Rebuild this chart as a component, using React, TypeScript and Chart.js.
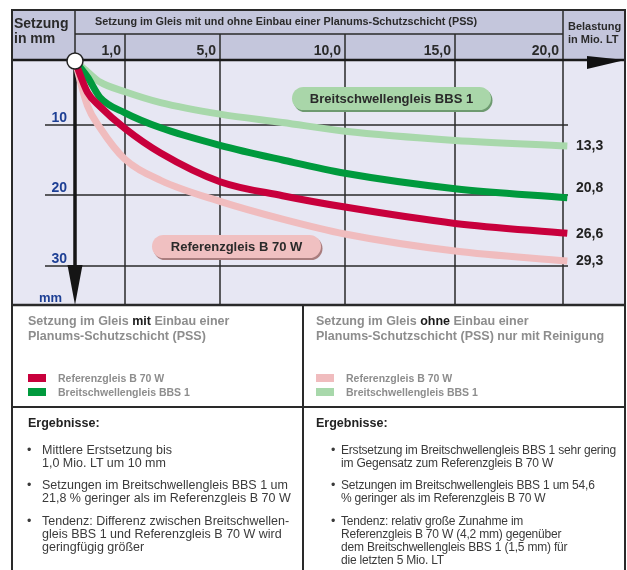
import React, { useEffect, useRef } from 'react';
import { Chart, registerables, LinearScale } from 'chart.js';

// ---------- data ----------
const belastungMioLT = [0, 0.25, 0.5, 1, 2.5, 5, 7.5, 10, 15, 20.2];
const refMitPSS = [0, 4.9, 7.1, 10.5, 14.0, 18.1, 20.1, 21.7, 24.0, 25.4];
const bbsMitPSS = [0, 2.5, 5.7, 8.1, 10.4, 12.9, 15.0, 16.9, 19.1, 20.4];
const refOhnePSS = [0, 7.0, 10.4, 14.9, 17.9, 20.9, 23.4, 25.5, 27.9, 29.3];
const bbsOhnePSS = [0, 1.7, 3.3, 4.8, 6.5, 8.3, 9.6, 10.9, 12.2, 13.0];
const seriesNames = ['Referenzgleis B 70 W', 'Breitschwellengleis BBS 1', 'Referenzgleis B 70 W', 'Breitschwellengleis BBS 1'];
const seriesColors = ['#c8003c', '#009a3d', '#f0bcbe', '#a8d8ab'];
const endwerte = [26.6, 20.8, 29.3, 13.3];
const xTicks = [1, 5, 10, 15, 20];
const yTicks = [10, 20, 30];

const ergebnisseMit = [
  ['Mittlere Erstsetzung bis', '1,0 Mio. LT um 10 mm'],
  ['Setzungen im Breitschwellengleis BBS 1 um', '21,8 % geringer als im Referenzgleis B 70 W'],
  ['Tendenz: Differenz zwischen Breitschwellen-', 'gleis BBS 1 und Referenzgleis B 70 W wird', 'geringfügig größer'],
];
const ergebnisseOhne = [
  ['Erstsetzung im Breitschwellengleis BBS 1 sehr gering', 'im Gegensatz zum Referenzgleis B 70 W'],
  ['Setzungen im Breitschwellengleis BBS 1 um 54,6', '% geringer als im Referenzgleis B 70 W'],
  ['Tendenz: relativ große Zunahme im', 'Referenzgleis B 70 W (4,2 mm) gegenüber', 'dem Breitschwellengleis BBS 1 (1,5 mm) für', 'die letzten 5 Mio. LT'],
];

const FONT = '"Liberation Sans", Arial, sans-serif';
const fmt = (v: number) => v.toFixed(1).replace('.', ',');

// piecewise-linear scale (the original drawing is not to a linear scale)
class AnchoredScale extends LinearScale {
  static id = 'anchored';
  static defaults = LinearScale.defaults;
  offsetFor(value: number): number {
    const o: any = this.options;
    const vs: number[] = o.anchorValues;
    const ps: number[] = o.anchorOffsets;
    let i = 1;
    while (i < vs.length - 1 && value > vs[i]) i++;
    return ps[i - 1] + ((value - vs[i - 1]) * (ps[i] - ps[i - 1])) / (vs[i] - vs[i - 1]);
  }
  getPixelForValue(value: number) {
    if (value === null || value === undefined || isNaN(value)) return NaN;
    const off = this.offsetFor(value);
    return this.isHorizontal() ? this.left + off : this.top + off;
  }
  getValueForPixel(pixel: number) {
    const o: any = this.options;
    const vs: number[] = o.anchorValues;
    const ps: number[] = o.anchorOffsets;
    const off = this.isHorizontal() ? pixel - this.left : pixel - this.top;
    let i = 1;
    while (i < ps.length - 1 && off > ps[i]) i++;
    return vs[i - 1] + ((off - ps[i - 1]) * (vs[i] - vs[i - 1])) / (ps[i] - ps[i - 1]);
  }
}

Chart.register(...registerables, AnchoredScale as any);

const L = 12, R = 625, T = 10, SUB = 34, DIV = 407, MID = 303;

function pill(ctx: CanvasRenderingContext2D, x: number, y: number, w: number, h: number, fill: string, shadow: string, text: string) {
  const r = h / 2;
  const rr = (dx: number, dy: number) => {
    ctx.beginPath();
    ctx.moveTo(x + dx + r, y + dy);
    ctx.lineTo(x + dx + w - r, y + dy);
    ctx.arc(x + dx + w - r, y + dy + r, r, -Math.PI / 2, Math.PI / 2);
    ctx.lineTo(x + dx + r, y + dy + h);
    ctx.arc(x + dx + r, y + dy + r, r, Math.PI / 2, (3 * Math.PI) / 2);
    ctx.closePath();
  };
  ctx.fillStyle = shadow;
  rr(1.5, 2);
  ctx.fill();
  ctx.fillStyle = fill;
  rr(0, 0);
  ctx.fill();
  ctx.fillStyle = '#2a2a2a';
  ctx.font = `bold 13px ${FONT}`;
  ctx.textAlign = 'center';
  ctx.textBaseline = 'middle';
  ctx.fillText(text, x + w / 2, y + h / 2 + 0.5);
}

const artPlugin = {
  id: 'art',
  beforeDraw(chart: any) {
    const { ctx, chartArea: ca, scales } = chart;
    const xs = scales.x, ys = scales.y;
    const W = chart.width, H = chart.height;
    const HB = ca.top, PB = ca.bottom;
    const ox = xs.getPixelForValue(0);
    const xEnd = xs.getPixelForValue(xTicks[xTicks.length - 1]);
    const line = (x1: number, y1: number, x2: number, y2: number, w: number, c = '#2a2a2a') => {
      ctx.beginPath();
      ctx.moveTo(x1, y1);
      ctx.lineTo(x2, y2);
      ctx.lineWidth = w;
      ctx.strokeStyle = c;
      ctx.stroke();
    };
    ctx.save();
    ctx.fillStyle = '#ffffff';
    ctx.fillRect(0, 0, W, H);
    ctx.fillStyle = '#c4c6dc';
    ctx.fillRect(L, T, R - L, HB - T);
    ctx.fillStyle = '#e7e7f3';
    ctx.fillRect(L, HB, R - L, PB - HB);

    xTicks.forEach((t, i) => {
      const px = Math.round(xs.getPixelForValue(t));
      line(px, i === xTicks.length - 1 ? T : SUB, px, PB, 1.5);
    });
    yTicks.forEach((t) => {
      const py = Math.round(ys.getPixelForValue(t));
      line(45, py, xEnd + 5, py, 1.5);
    });
    line(L, T, R, T, 2);
    line(ox, SUB, xEnd, SUB, 1.5);
    line(ox, T, ox, HB, 1.5);
    line(L, HB, R, HB, 2.5, '#1a1a1a');
    line(L, T - 1, L, H, 2);
    line(R, T - 1, R, H, 2);
    line(L, PB, R, PB, 2.5);
    line(L, DIV, R, DIV, 2);
    line(MID, PB, MID, H, 2);

    // x-axis arrow head
    ctx.fillStyle = '#111';
    ctx.beginPath();
    ctx.moveTo(587, 56);
    ctx.lineTo(R, 60);
    ctx.lineTo(587, 69);
    ctx.closePath();
    ctx.fill();

    // header texts
    ctx.fillStyle = '#2a2a2a';
    ctx.textAlign = 'left';
    ctx.textBaseline = 'alphabetic';
    ctx.font = `bold 14px ${FONT}`;
    ctx.fillText('Setzung', 14, 28);
    ctx.fillText('in mm', 14, 43);
    ctx.font = `bold 10.8px ${FONT}`;
    ctx.fillText('Setzung im Gleis mit und ohne Einbau einer Planums-Schutzschicht (PSS)', 95, 25);
    ctx.font = `bold 11px ${FONT}`;
    ctx.fillText('Belastung', 568, 30);
    ctx.fillText('in Mio. LT', 568, 43);
    ctx.font = `bold 14px ${FONT}`;
    ctx.textAlign = 'right';
    xTicks.forEach((t) => {
      ctx.fillText(fmt(t), Math.round(xs.getPixelForValue(t)) - 4, 55);
    });
    // y labels
    ctx.fillStyle = '#1d3f94';
    ctx.font = `bold 14px ${FONT}`;
    yTicks.forEach((t) => {
      ctx.fillText(String(t), 67, Math.round(ys.getPixelForValue(t)) - 3.5);
    });
    ctx.textAlign = 'left';
    ctx.font = `bold 13px ${FONT}`;
    ctx.fillText('mm', 39, 302);
    ctx.restore();
  },
  beforeDatasetsDraw(chart: any) {
    const { ctx, chartArea: ca, scales } = chart;
    const ox = scales.x.getPixelForValue(0);
    ctx.save();
    ctx.beginPath();
    ctx.moveTo(ox, ca.top);
    ctx.lineTo(ox, 268);
    ctx.lineWidth = 3.5;
    ctx.strokeStyle = '#151515';
    ctx.stroke();
    ctx.fillStyle = '#151515';
    ctx.beginPath();
    ctx.moveTo(ox - 7.5, 265);
    ctx.lineTo(ox + 7.5, 265);
    ctx.lineTo(ox, ca.bottom);
    ctx.closePath();
    ctx.fill();
    ctx.restore();
  },
  afterDatasetsDraw(chart: any) {
    const { ctx, scales } = chart;
    const xs = scales.x, ys = scales.y;
    ctx.save();
    // origin circle
    ctx.beginPath();
    ctx.arc(xs.getPixelForValue(0), ys.getPixelForValue(0), 8, 0, Math.PI * 2);
    ctx.fillStyle = '#ffffff';
    ctx.fill();
    ctx.lineWidth = 1.5;
    ctx.strokeStyle = '#222';
    ctx.stroke();
    // pills
    pill(ctx, 292, 87, 199, 23, '#a9d6a9', '#6e9a70', seriesNames[1]);
    pill(ctx, 152, 235, 169, 23, '#f0c0c1', '#a97d7e', seriesNames[0]);
    // end labels
    const dy = [5, -6, 4, 4];
    ctx.fillStyle = '#222';
    ctx.font = `bold 14px ${FONT}`;
    ctx.textAlign = 'left';
    ctx.textBaseline = 'alphabetic';
    const series = [refMitPSS, bbsMitPSS, refOhnePSS, bbsOhnePSS];
    series.forEach((s, i) => {
      const py = ys.getPixelForValue(s[s.length - 1]);
      ctx.fillText(fmt(endwerte[i]), 576, py + dy[i]);
    });
    ctx.restore();
  },
};

function Results({ left, bulletLeft, textLeft, items, fontSize, spacing }: { left: number; bulletLeft: number; textLeft: number; items: string[][]; fontSize: number; spacing: number }) {
  const LH = 13;
  let top = 443.5;
  const blocks: any[] = [];
  items.forEach((lines, k) => {
    blocks.push(
      <div key={'b' + k} style={{ position: 'absolute', left: bulletLeft, top, lineHeight: LH + 'px', height: LH }}>•</div>
    );
    lines.forEach((ln, j) => {
      blocks.push(
        <div key={'l' + k + '_' + j} style={{ position: 'absolute', left: textLeft, top: top + j * LH, lineHeight: LH + 'px', whiteSpace: 'nowrap', fontSize, letterSpacing: spacing }}>{ln}</div>
      );
    });
    top += lines.length * LH + 9.5;
  });
  return (
    <>
      <div style={{ position: 'absolute', left, top: 416, lineHeight: '14px', fontWeight: 700, color: '#222' }}>Ergebnisse:</div>
      {blocks}
    </>
  );
}

function LegendPanel({ left, word, rest, colors }: { left: number; word: string; rest: string; colors: string[] }) {
  return (
    <>
      <div style={{ position: 'absolute', left, top: 313.5, lineHeight: '15px', fontWeight: 700, color: '#8d8d8d', fontSize: 12.5, whiteSpace: 'nowrap' }}>
        Setzung im Gleis <span style={{ color: '#1a1a1a' }}>{word}</span> Einbau einer
        <br />
        {rest}
      </div>
      {[0, 1].map((i) => (
        <React.Fragment key={i}>
          <div style={{ position: 'absolute', left, top: 373.5 + i * 14, width: 18, height: 8, background: colors[i] }} />
          <div style={{ position: 'absolute', left: left + 30, top: 370.5 + i * 14, lineHeight: '14px', fontWeight: 700, color: '#8d8d8d', fontSize: 10.5, whiteSpace: 'nowrap' }}>
            {seriesNames[i]}
          </div>
        </React.Fragment>
      ))}
    </>
  );
}

export default function App() {
  const ref = useRef<HTMLCanvasElement>(null);
  useEffect(() => {
    document.body.style.margin = '0';
    const series = [refMitPSS, bbsMitPSS, refOhnePSS, bbsOhnePSS];
    const chart = new Chart(ref.current as HTMLCanvasElement, {
      type: 'line',
      data: {
        datasets: series.map((s, i) => ({
          label: seriesNames[i],
          data: belastungMioLT.map((x, k) => ({ x, y: s[k] })),
          borderColor: seriesColors[i],
          backgroundColor: seriesColors[i],
          borderWidth: 7,
          pointRadius: 0,
          cubicInterpolationMode: 'monotone',
          borderCapStyle: 'butt',
          borderJoinStyle: 'round',
          fill: false,
          clip: false,
        })) as any,
      },
      options: {
        animation: false,
        responsive: false,
        devicePixelRatio: 1,
        events: [],
        layout: { padding: { left: 12, right: 2, top: 60, bottom: 265 } },
        plugins: { legend: { display: false }, tooltip: { enabled: false } },
        scales: {
          x: { type: 'anchored', display: false, min: -3, max: 22, anchorValues: [0, 1, 5, 10, 15, 20], anchorOffsets: [63, 113, 208, 333, 443, 551] } as any,
          y: { type: 'anchored', display: false, reverse: true, min: -1, max: 36, anchorValues: [0, 10, 20, 30], anchorOffsets: [1, 65, 135, 206] } as any,
        },
      } as any,
      plugins: [artPlugin],
    });
    return () => chart.destroy();
  }, []);

  return (
    <div style={{ position: 'relative', width: 627, height: 570, overflow: 'hidden', fontFamily: FONT, fontSize: 12.5, color: '#3a3a3a' }}>
      <canvas ref={ref} width={627} height={570} style={{ position: 'absolute', left: 0, top: 0 }} />
      <LegendPanel left={28} word="mit" rest="Planums-Schutzschicht (PSS)" colors={[seriesColors[0], seriesColors[1]]} />
      <LegendPanel left={316} word="ohne" rest="Planums-Schutzschicht (PSS) nur mit Reinigung" colors={[seriesColors[2], seriesColors[3]]} />
      <Results left={28} bulletLeft={27} textLeft={42} items={ergebnisseMit} fontSize={12.5} spacing={0} />
      <Results left={316} bulletLeft={331} textLeft={341} items={ergebnisseOhne} fontSize={12} spacing={-0.2} />
    </div>
  );
}
